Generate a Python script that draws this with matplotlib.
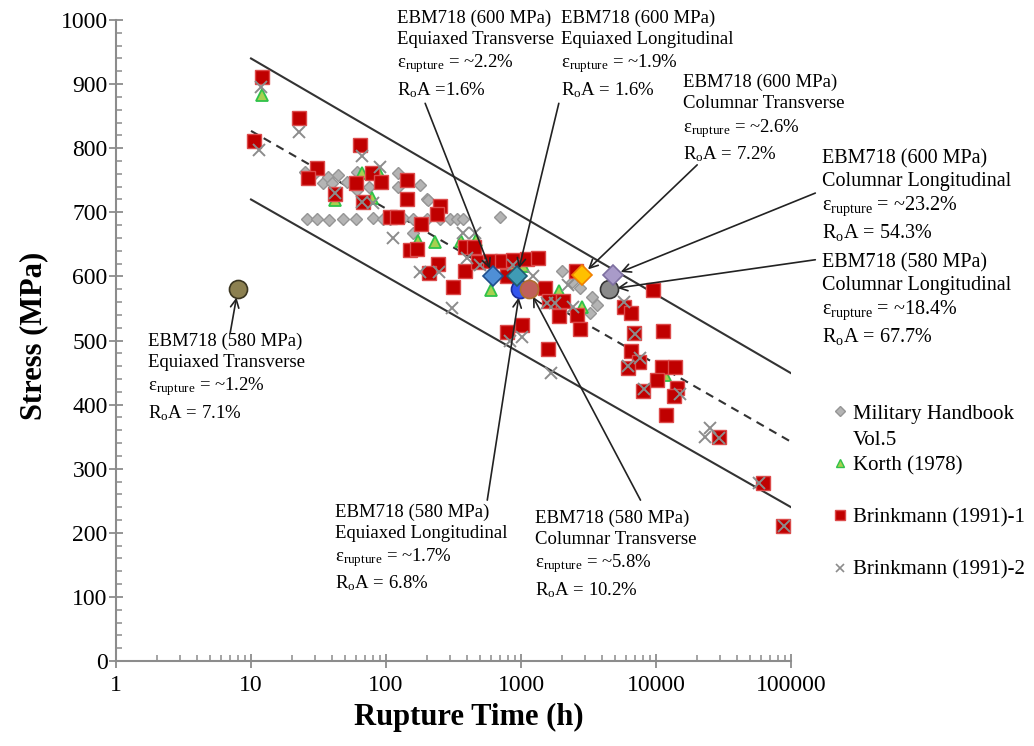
import matplotlib
matplotlib.use("Agg")
import matplotlib.pyplot as plt
from matplotlib.lines import Line2D
from matplotlib.ticker import LogLocator, MultipleLocator, NullFormatter

plt.rcParams['font.family'] = 'Liberation Serif'
plt.rcParams['mathtext.fontset'] = 'custom'
plt.rcParams['mathtext.rm'] = 'Liberation Serif'
plt.rcParams['mathtext.it'] = 'Liberation Serif:italic'
plt.rcParams['mathtext.bf'] = 'Liberation Serif:bold'

# ---- data (rupture time in h, stress in MPa) ----
mh_t = [26, 31, 38, 48, 60, 80, 95, 107, 134, 158, 201, 251, 298, 336, 372,
        25, 30, 34, 37, 44, 40, 51, 61, 61, 75, 123, 123, 179, 201, 158, 204, 700,
        2010, 2390, 2740, 3360, 3660, 3250]
mh_s = [690, 689, 688, 690, 690, 691, 690, 690, 691, 690, 690, 690, 690, 690, 690,
        763, 761, 746, 755, 758, 746, 747, 763, 735, 739, 761, 739, 743, 721, 668, 719, 693,
        608, 591, 582, 568, 555, 543]

korth_t = [12.1, 66, 89, 79, 42, 173, 231, 359, 464, 599, 873, 1035, 1910, 2830, 11660]
korth_s = [883, 761, 761, 722, 719, 655, 654, 655, 657, 579, 616, 616, 577, 552, 446]

b1_t = [12.1, 10.5, 22.7, 64, 31, 26.4, 79, 60, 92, 143, 42, 67.5, 143, 251, 239,
        107, 121, 182, 151, 170, 385, 449, 243, 208, 385, 313, 480, 589, 723, 873,
        1108, 1336, 788, 1506, 788, 1017, 2555, 1612, 2047, 1911, 2600, 2735, 1585,
        9500, 5796, 6530, 6870, 11270, 6530, 7480, 6210, 11070, 13830, 10170, 8010,
        14310, 13600, 11860, 29300, 62500, 87300]
b1_s = [911, 811, 847, 805, 769, 753, 761, 746, 747, 750, 729, 716, 721, 710, 697,
        693, 693, 682, 641, 643, 646, 646, 619, 605, 608, 583, 622, 624, 624, 626,
        627, 629, 601, 582, 513, 524, 608, 562, 562, 538, 540, 518, 487,
        579, 552, 543, 512, 515, 484, 466, 457, 459, 459, 438, 421,
        426, 413, 384, 349, 278, 211]

b2_t = [11.9, 22.7, 11.5, 66, 90, 42, 80, 66, 113, 179, 247, 308, 372, 457, 398,
        497, 1227, 1559, 1786, 2230, 2430, 1017, 829, 1668, 5796, 6990, 6210, 7610,
        8150, 15060, 25100, 23100, 29300, 57900, 88800, 873]
b2_s = [895, 825, 797, 788, 771, 730, 714, 716, 660, 607, 607, 551, 668, 668, 629,
        618, 601, 558, 558, 587, 552, 505, 499, 449, 560, 510, 460, 473,
        424, 417, 363, 349, 348, 278, 211, 618]

# trend lines (upper bound, mean, lower bound)
line_t = [10, 100000]
upper_s = [940, 449]
mean_s = [827, 342]
lower_s = [720, 240]

# EBM718 specimens
ebm_names = ['600 ET', '600 EL', '580 EL', '580 CT', '600 CT', '600 CL', '580 CL', '580 ET']
ebm_t = [620, 935, 983, 1146, 2830, 4800, 4490, 8]
ebm_s = [600, 600, 580, 580, 602, 602, 580, 580]
ebm_marker = ['D', 'D', 'o', 'o', 'D', 'D', 'o', 'o']
ebm_face = ['#4f8fd6', '#3f9bb5', '#3355ee', '#c0605a', '#ffc000', '#a99bc9', '#8a8a8a', '#8c8050']
ebm_edge = ['#1f4e8c', '#1e5a70', '#1a2a99', '#b07030', '#f08000', '#7d6fa0', '#333333', '#3a3520']

notes = [
    "EBM718 (600 MPa)\nEquiaxed Transverse\nε$_{\\mathrm{rupture}}$ = ~2.2%\nR$_{\\mathrm{o}}$A =1.6%",
    "EBM718 (600 MPa)\nEquiaxed Longitudinal\nε$_{\\mathrm{rupture}}$ = ~1.9%\nR$_{\\mathrm{o}}$A = 1.6%",
    "EBM718 (580 MPa)\nEquiaxed Longitudinal\nε$_{\\mathrm{rupture}}$ = ~1.7%\nR$_{\\mathrm{o}}$A = 6.8%",
    "EBM718 (580 MPa)\nColumnar Transverse\nε$_{\\mathrm{rupture}}$ = ~5.8%\nR$_{\\mathrm{o}}$A = 10.2%",
    "EBM718 (600 MPa)\nColumnar Transverse\nε$_{\\mathrm{rupture}}$ = ~2.6%\nR$_{\\mathrm{o}}$A = 7.2%",
    "EBM718 (600 MPa)\nColumnar Longitudinal\nε$_{\\mathrm{rupture}}$ = ~23.2%\nR$_{\\mathrm{o}}$A = 54.3%",
    "EBM718 (580 MPa)\nColumnar Longitudinal\nε$_{\\mathrm{rupture}}$ = ~18.4%\nR$_{\\mathrm{o}}$A = 67.7%",
    "EBM718 (580 MPa)\nEquiaxed Transverse\nε$_{\\mathrm{rupture}}$ = ~1.2%\nR$_{\\mathrm{o}}$A = 7.1%",
]
note_size = [13.5, 13.5, 13.5, 13.5, 13.5, 14.5, 14.5, 13.5]
# text top-left and arrow start, in axes fraction
note_pos = [(0.416, 1.016), (0.659, 1.016), (0.324, 0.246), (0.621, 0.236),
            (0.840, 0.916), (1.046, 0.798), (1.046, 0.636), (0.047, 0.512)]
arrow_from = [(0.458, 0.870), (0.656, 0.870), (0.550, 0.251), (0.777, 0.251),
              (0.861, 0.774), (1.036, 0.730), (1.036, 0.626), (0.169, 0.511)]

fig = plt.figure(figsize=(10.34, 7.46), dpi=100)
ax = fig.add_axes([0.1122, 0.1139, 0.6528, 0.8593])

ax.plot(line_t, upper_s, color='#333333', lw=1.5)
ax.plot(line_t, lower_s, color='#333333', lw=1.5)
ax.plot(line_t, mean_s, color='#333333', lw=1.5, ls=(0, (4, 3)))

ax.plot(mh_t, mh_s, 'D', ls='none', ms=6, mfc='#b4b4b4', mec='#959595', mew=1)
ax.plot(korth_t, korth_s, '^', ls='none', ms=8, mfc='#a8d050', mec='#2fc24a', mew=1.3)
ax.plot(b1_t, b1_s, 's', ls='none', ms=9.5, mfc='#c00000', mec='#dc4a4a', mew=1)
ax.plot(b2_t, b2_s, 'x', ls='none', ms=8, color='#8c8c8c', mew=1.4)

for i in [2, 3, 6, 7, 0, 1, 4, 5]:
    ms = 13 if ebm_marker[i] == 'o' else 10
    ax.plot(ebm_t[i], ebm_s[i], ebm_marker[i], ms=ms, mfc=ebm_face[i],
            mec=ebm_edge[i], mew=1.2, zorder=5)

for txt, fs, pos, start, t, s in zip(notes, note_size, note_pos, arrow_from, ebm_t, ebm_s):
    ax.text(pos[0], pos[1], txt, transform=ax.transAxes, ha='left', va='top',
            fontsize=fs, linespacing=1.3 if fs < 14 else 1.24, clip_on=False)
    ax.annotate('', xy=(t, s), xycoords='data', xytext=start,
                textcoords='axes fraction', annotation_clip=False,
                arrowprops=dict(arrowstyle='->,head_length=0.6,head_width=0.3',
                                color='#222222', lw=1.2, shrinkA=0, shrinkB=6))

ax.set_xscale('log')
ax.set_xlim(1, 100000)
ax.set_ylim(0, 1000)
ax.set_xticks([1, 10, 100, 1000, 10000, 100000])
ax.set_xticklabels(['1', '10', '100', '1000', '10000', '100000'])
ax.xaxis.set_minor_locator(LogLocator(base=10, subs=range(2, 10)))
ax.xaxis.set_minor_formatter(NullFormatter())
ax.yaxis.set_major_locator(MultipleLocator(100))
ax.yaxis.set_minor_locator(MultipleLocator(20))

for side in ['top', 'right']:
    ax.spines[side].set_visible(False)
for side in ['left', 'bottom']:
    ax.spines[side].set_color('#8c8c8c')
    ax.spines[side].set_linewidth(1.5)

ax.tick_params(which='major', direction='inout', length=10, width=1.3,
               color='#8c8c8c', labelsize=17)
ax.tick_params(axis='x', which='major', pad=5)
ax.tick_params(axis='y', which='major', pad=1)
ax.tick_params(which='minor', direction='in', length=4.5, width=1.1, color='#8c8c8c')

ax.set_xlabel('Rupture Time (h)', fontsize=22, fontweight='bold')
ax.set_ylabel('Stress (MPa)', fontsize=22, fontweight='bold')
ax.xaxis.set_label_coords(0.523, -0.066)
ax.yaxis.set_label_coords(-0.10, 0.508)

blank = Line2D([], [], ls='none')
handles = [Line2D([], [], marker='D', ls='none', ms=5, mfc='#b4b4b4', mec='#959595'),
           blank,
           Line2D([], [], marker='^', ls='none', ms=6, mfc='#a8d050', mec='#2fc24a'),
           blank,
           Line2D([], [], marker='s', ls='none', ms=7, mfc='#c00000', mec='#dc4a4a'),
           blank,
           Line2D([], [], marker='x', ls='none', ms=6, color='#8c8c8c', mew=1.2)]
labels = ['Military Handbook', 'Vol.5', 'Korth (1978)', ' ', 'Brinkmann (1991)-1', ' ',
          'Brinkmann (1991)-2']
ax.legend(handles, labels, loc='upper left', bbox_to_anchor=(0.8066, 0.4585),
          bbox_transform=fig.transFigure, frameon=False, fontsize=15,
          handlelength=0.6, handletextpad=0.3, labelspacing=0.31,
          borderpad=0, borderaxespad=0)

fig.savefig('out.png', dpi=100)
